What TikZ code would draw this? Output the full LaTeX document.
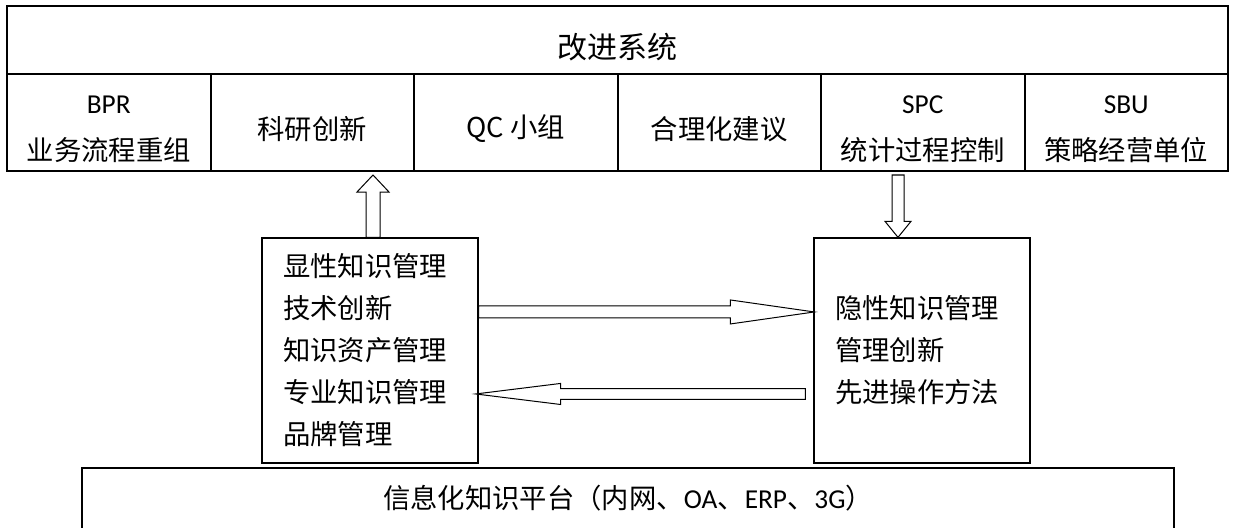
\documentclass[tikz,border=0pt]{standalone}
\usepackage{fontspec}
\setmainfont{Noto Sans CJK SC}
\newfontfamily\latin{Carlito}
\usetikzlibrary{calc}

\tikzset{every picture/.style={line width=0.75pt}}
\tikzset{
	cellbox/.style={draw, line width=1.5pt, minimum width=152.625pt, minimum height=72.75pt, inner sep=0pt, outer sep=0pt},
	celltext/.style={align=center, inner sep=0pt, font=\fontsize{20.5}{35}\selectfont},
	midbox/.style={draw, line width=1pt, minimum width=162pt, minimum height=168.75pt, text width=130.5pt, inner xsep=15.75pt, align=left, font=\fontsize{20.5}{31.5}\selectfont},
	arrowline/.style={line width=0.75pt, fill=white},
}

% block arrow: tail, tip, shaft half width, head half width, head length
\newcommand{\blockarrow}[5]{%
	\path ($(#2)!#5!(#1)$) coordinate (hb);
	\draw[arrowline] ($(#1)!#3!90:(#2)$) -- ($(hb)!#3!90:(#2)$) -- ($(hb)!#4!90:(#2)$) -- (#2) -- ($(hb)!#4!-90:(#2)$) -- ($(hb)!#3!-90:(#2)$) -- ($(#1)!#3!-90:(#2)$) -- cycle ;}

\begin{document}
\begin{tikzpicture}[x=0.75pt,y=0.75pt,yscale=-1,xscale=1]
		\useasboundingbox (0,0) rectangle (1233,528);
		
		%改进系统
		\node[cellbox, minimum width=915.75pt, minimum height=51pt] (title) at (617.5,40) {};
		\node[inner sep=0pt, font=\fontsize{22.5}{27}\selectfont] (titletext) at ([yshift=5pt]title.center) {改进系统};
		\foreach \i/\txt in {1/{{\latin BPR}\\业务流程重组}, 2/科研创新, 3/{QC 小组}, 4/合理化建议, 5/{{\latin SPC}\\统计过程控制}, 6/{{\latin SBU}\\策略经营单位}}{
			\node[cellbox] (c\i) at (108.75+203.5*\i-203.5,122.5) {};
			\node[celltext] (t\i) at ([yshift=4.9pt]c\i.center) {\txt};
		}
		
		%两个知识管理框
		\node[midbox] (xianxing) at (370,350.5) {显性知识管理\\技术创新\\知识资产管理\\专业知识管理\\品牌管理};
		\node[midbox] (yinxing) at (922,350.5) {隐性知识管理\\管理创新\\先进操作方法};
		
		%信息化知识平台
		\node[draw, line width=1.5pt, anchor=north, minimum width=819pt, inner ysep=0pt, text height=30.5pt, text depth=60pt, font=\fontsize{20.5}{25}\selectfont] (pingtai) at (628,467) {信息化知识平台（内网、{\latin OA}、{\latin ERP}、{\latin 3G}）};
		
		\coordinate (upTail) at ([xshift=2.25pt]xianxing.north);
		\coordinate (upTip) at ([yshift=3pt]upTail |- c2.south);
		\blockarrow{upTail}{upTip}{5.25pt}{12pt}{12.75pt}
		\coordinate (dnTip) at ([xshift=-18pt]yinxing.north);
		\coordinate (dnTail) at ([yshift=3pt]dnTip |- c5.south);
		\blockarrow{dnTail}{dnTip}{4.5pt}{9.75pt}{12pt}
		\coordinate (rTail) at ([yshift=-28.9pt]xianxing.east);
		\coordinate (rTip) at ([xshift=0.75pt]rTail -| yinxing.west);
		\blockarrow{rTail}{rTip}{4.5pt}{9pt}{63pt}
		\coordinate (lTail) at ([xshift=-6pt,yshift=32.6pt]yinxing.west);
		\coordinate (lTip) at ([xshift=-2.25pt]lTail -| xianxing.east);
		\blockarrow{lTail}{lTip}{4.1pt}{7.9pt}{63.75pt}
		
	\end{tikzpicture}
\end{document}
